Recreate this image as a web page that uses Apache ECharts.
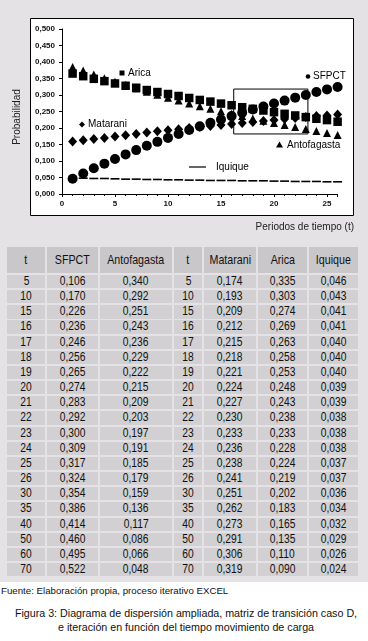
<!DOCTYPE html>
<html><head><meta charset="utf-8">
<script src="https://cdn.jsdelivr.net/npm/echarts@6/dist/echarts.min.js"></script>
<style>
html,body{margin:0;padding:0;width:368px;height:641px;overflow:hidden;background:#fff;font-family:"Liberation Sans",Arial,sans-serif;}
#bg{position:absolute;left:0;top:0;width:368px;height:582px;background:#e4e2e4;}
#chart{position:absolute;left:0;top:0;width:368px;height:244px;}
.cell{position:absolute;background:#d2d0d2;color:#111;text-align:center;font-family:"Liberation Sans",Arial,sans-serif;font-size:12.5px;white-space:nowrap;overflow:hidden;}
.cell span{display:inline-block;transform:scaleX(0.82);transform-origin:50% 50%;}
.hdr{background:#c9c7c9;font-size:13px;}
#fuente{position:absolute;left:1px;top:585px;font-size:9.7px;color:#111;white-space:nowrap;}
#cap{position:absolute;left:0;width:372px;top:606px;font-size:10.7px;color:#111;text-align:center;line-height:14px;white-space:nowrap;}
</style></head>
<body>
<div id="bg"></div>
<div id="chart"></div>
<div id="tbl"></div>
<div id="fuente">Fuente: Elaboración propia, proceso iterativo EXCEL</div>
<div id="cap">Figura 3: Diagrama de dispersión ampliada, matriz de transición caso D,<br>e iteración en función del tiempo movimiento de carga</div>
<script>
// ---- chart data (t = 1..26) ----
const periods = [1,2,3,4,5,6,7,8,9,10,11,12,13,14,15,16,17,18,19,20,21,22,23,24,25,26];
const sfpct       = [0.046,0.062,0.078,0.092,0.106,0.120,0.133,0.146,0.158,0.170,0.182,0.194,0.205,0.216,0.226,0.236,0.246,0.256,0.265,0.274,0.283,0.292,0.300,0.309,0.317,0.324];
const antofagasta = [0.385,0.374,0.362,0.351,0.340,0.330,0.320,0.310,0.301,0.292,0.283,0.274,0.266,0.258,0.251,0.243,0.236,0.229,0.222,0.215,0.209,0.203,0.197,0.191,0.185,0.179];
const matarani    = [0.159,0.163,0.167,0.170,0.174,0.178,0.182,0.186,0.190,0.193,0.196,0.200,0.203,0.206,0.209,0.212,0.215,0.218,0.221,0.224,0.227,0.230,0.233,0.236,0.238,0.241];
const arica       = [0.365,0.357,0.349,0.342,0.335,0.328,0.322,0.315,0.309,0.303,0.297,0.291,0.285,0.280,0.274,0.269,0.263,0.258,0.253,0.248,0.243,0.238,0.233,0.228,0.224,0.219];
const iquique     = [0.049,0.048,0.047,0.047,0.046,0.045,0.045,0.044,0.044,0.043,0.043,0.042,0.042,0.041,0.041,0.041,0.040,0.040,0.040,0.039,0.039,0.038,0.038,0.038,0.037,0.037];
const zoomBox = [[16.2,0.318],[23.2,0.182]];

// ---- table data ----
const tableT = [5,10,15,16,17,18,19,20,21,22,23,24,25,26,30,35,40,50,60,70];
const tabSFPCT = [0.106,0.170,0.226,0.236,0.246,0.256,0.265,0.274,0.283,0.292,0.300,0.309,0.317,0.324,0.354,0.386,0.414,0.460,0.495,0.522];
const tabAntofagasta = [0.340,0.292,0.251,0.243,0.236,0.229,0.222,0.215,0.209,0.203,0.197,0.191,0.185,0.179,0.159,0.136,0.117,0.086,0.066,0.048];
const tabMatarani = [0.174,0.193,0.209,0.212,0.215,0.218,0.221,0.224,0.227,0.230,0.233,0.236,0.238,0.241,0.251,0.262,0.273,0.291,0.306,0.319];
const tabArica = [0.335,0.303,0.274,0.269,0.263,0.258,0.253,0.248,0.243,0.238,0.233,0.228,0.224,0.219,0.202,0.183,0.165,0.135,0.110,0.090];
const tabIquique = [0.046,0.043,0.041,0.041,0.040,0.040,0.040,0.039,0.039,0.038,0.038,0.038,0.037,0.037,0.036,0.034,0.032,0.029,0.026,0.024];
const tableHeaders = ['t','SFPCT','Antofagasta','t','Matarani','Arica','Iquique'];

const fmt = v => v.toFixed(3).replace('.', ',');
const pairs = arr => periods.map((t,i)=>[t,arr[i]]);

// build table
(function(){
  const bounds = [7,46,99,173,203,257,308,358];
  const cols = [tableT, tabSFPCT, tabAntofagasta, tableT, tabMatarani, tabArica, tabIquique];
  const root = document.getElementById('tbl');
  function cell(x0,x1,top,h,txt,cls){
    const d=document.createElement('div');
    d.className='cell'+(cls?' '+cls:'');
    d.style.left=x0+'px'; d.style.width=(x1-x0)+'px';
    d.style.top=top+'px'; d.style.height=h+'px'; d.style.lineHeight=h+'px';
    const s=document.createElement('span'); s.textContent=txt; d.appendChild(s);
    root.appendChild(d);
  }
  for(let c=0;c<7;c++){
    const x0 = c===0?bounds[0]:bounds[c]+1;
    const x1 = c===6?bounds[7]:bounds[c+1]-1;
    cell(x0,x1,247,26,tableHeaders[c],'hdr');
    for(let r=0;r<tableT.length;r++){
      const v = cols[c][r];
      const txt = (c===0||c===3)? String(v) : fmt(v);
      cell(x0,x1,275+r*15.16,13.2,txt);
    }
  }
})();

const chart = echarts.init(document.getElementById('chart'), null, {renderer:'canvas'});
const lblFont = {fontFamily:'Liberation Sans, Arial, sans-serif', fontSize:10, fill:'#000'};
chart.setOption({
  animation:false,
  backgroundColor:'transparent',
  grid:{left:62, right:30.4, top:29, bottom:50},
  xAxis:{type:'value', min:0, max:26, interval:5,
    axisLine:{lineStyle:{color:'#000', width:1}},
    axisTick:{show:true, length:3, lineStyle:{color:'#000'}},
    minorTick:{show:true, splitNumber:5, length:2, lineStyle:{color:'#000'}},
    splitLine:{show:false},
    axisLabel:{fontSize:8, fontWeight:'bold', color:'#111', margin:6, showMaxLabel:false, fontFamily:'Liberation Sans, Arial, sans-serif'}},
  yAxis:{type:'value', min:0, max:0.5, interval:0.05,
    axisLine:{show:true, lineStyle:{color:'#000', width:1}},
    axisTick:{show:true, length:3, lineStyle:{color:'#000'}},
    splitLine:{show:false},
    axisLabel:{fontSize:8, fontWeight:'bold', color:'#111', margin:7, fontFamily:'Liberation Sans, Arial, sans-serif', formatter:v=>fmt(v)}},
  graphic:[
    {type:'rect', z:-10, shape:{x:30.5,y:18.5,width:323,height:197}, style:{fill:'#fff', stroke:'#000', lineWidth:1}},
    {type:'text', x:17, y:117, rotation:Math.PI/2, style:Object.assign({text:'Probabilidad', align:'center', verticalAlign:'middle'}, lblFont, {fill:'#222'})},
    {type:'text', x:354, y:227, style:Object.assign({text:'Periodos de tiempo (t)', align:'right', verticalAlign:'middle'}, lblFont, {fill:'#222'})},
    {type:'rect', shape:{x:119.5,y:70.5,width:5,height:5}, style:{fill:'#000'}},
    {type:'text', x:128, y:73.5, style:Object.assign({text:'Arica', align:'left', verticalAlign:'middle'}, lblFont)},
    {type:'circle', shape:{cx:308, cy:76.5, r:2.3}, style:{fill:'#000'}},
    {type:'text', x:313, y:76.5, style:Object.assign({text:'SFPCT', align:'left', verticalAlign:'middle'}, lblFont)},
    {type:'polygon', shape:{points:[[82,121.5],[85,124.5],[82,127.5],[79,124.5]]}, style:{fill:'#000'}},
    {type:'text', x:88, y:124.5, style:Object.assign({text:'Matarani', align:'left', verticalAlign:'middle'}, lblFont)},
    {type:'polygon', shape:{points:[[279.5,141.5],[283,147.5],[276,147.5]]}, style:{fill:'#000'}},
    {type:'text', x:287, y:145, style:Object.assign({text:'Antofagasta', align:'left', verticalAlign:'middle'}, lblFont)},
    {type:'line', shape:{x1:189,y1:167,x2:206,y2:167}, style:{stroke:'#000', lineWidth:1.2}},
    {type:'text', x:216, y:167, style:Object.assign({text:'Iquique', align:'left', verticalAlign:'middle'}, lblFont)}
  ],
  series:[
    {name:'Iquique', type:'scatter', symbol:'rect', symbolSize:[9,1.6], itemStyle:{color:'#000', opacity:1}, data:pairs(iquique)},
    {name:'Matarani', type:'scatter', symbol:'diamond', symbolSize:[9,10], itemStyle:{color:'#000', opacity:1}, data:pairs(matarani)},
    {name:'Antofagasta', type:'scatter', symbol:'triangle', symbolSize:[8,8], itemStyle:{color:'#000', opacity:1}, data:pairs(antofagasta)},
    {name:'Arica', type:'scatter', symbol:'rect', symbolSize:8.5, itemStyle:{color:'#000', opacity:1}, data:pairs(arica)},
    {name:'SFPCT', type:'scatter', symbol:'circle', symbolSize:10, itemStyle:{color:'#000', opacity:1}, data:pairs(sfpct),
      markArea:{silent:true, itemStyle:{color:'rgba(0,0,0,0)', borderColor:'#000', borderWidth:1}, data:[[{coord:zoomBox[0]},{coord:zoomBox[1]}]]}}
  ]
});
</script>
</body></html>
